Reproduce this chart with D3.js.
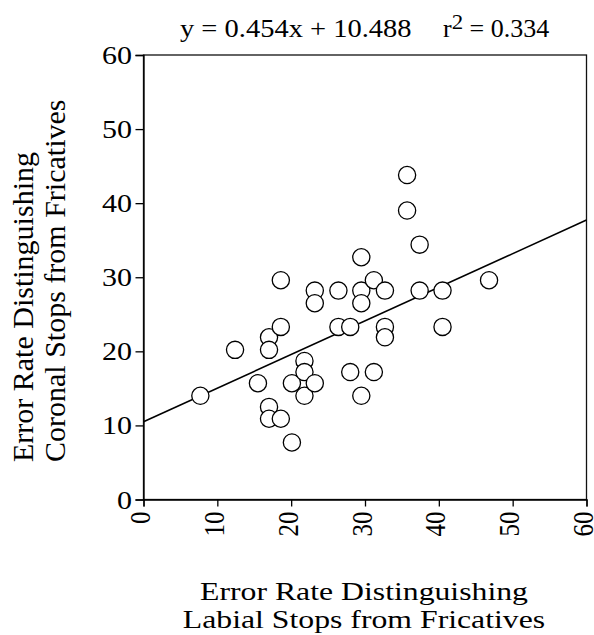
<!DOCTYPE html>
<html>
<head>
<meta charset="utf-8">
<script src="https://cdn.jsdelivr.net/npm/d3@7"></script>
<style>
  body { margin: 0; background: #fff; }
  text { font-family: "Liberation Serif", "Times New Roman", serif; fill: #000; }
</style>
</head>
<body>
<div id="chart"></div>
<script>
// values
const labialErr = [7.7, 12.4, 15.5, 17.0, 17.0, 17.0, 17.0, 18.6, 18.6, 18.6, 20.1, 20.1, 21.8, 21.8, 21.8,
    23.2, 23.2, 23.2, 26.4, 26.4, 28.0, 28.0, 29.5, 29.5, 29.5, 29.5, 31.2, 31.2, 32.7, 32.7, 32.7,
    35.7, 35.7, 37.4, 37.4, 40.5, 40.5, 46.8];
const coronalErr = [14.0, 20.2, 15.7, 21.9, 20.2, 12.5, 10.9, 10.9, 23.3, 29.6, 7.7, 15.7, 18.7, 17.2, 14.0,
    15.7, 28.2, 26.5, 28.2, 23.3, 23.3, 17.2, 32.7, 28.2, 26.5, 14.0, 29.6, 17.2, 28.2, 23.3, 21.9,
    43.8, 39.0, 34.4, 28.2, 28.2, 23.3, 29.6];
const slope = 0.454, intercept = 10.488, rSquared = 0.334;
const tickValues = [0, 10, 20, 30, 40, 50, 60];
const xLabelLines = ["Error Rate Distinguishing", "Labial Stops from Fricatives"];
const yLabelLines = ["Error Rate Distinguishing", "Coronal Stops from Fricatives"];

const width = 594, height = 635;
const margin = { top: 55, right: 7.5, bottom: 135.5, left: 143.5 };
const plotW = width - margin.left - margin.right;
const plotH = height - margin.top - margin.bottom;
const fs = 25;

const svg = d3.select("#chart").append("svg")
    .attr("width", width)
    .attr("height", height);

const g = svg.append("g")
    .attr("transform", `translate(${margin.left},${margin.top})`);

const x = d3.scaleLinear().domain([0, 60]).range([0, plotW]);
const y = d3.scaleLinear().domain([0, 60]).range([plotH, 0]);

// frame
g.append("rect")
    .attr("width", plotW)
    .attr("height", plotH)
    .attr("fill", "none")
    .attr("stroke", "#111")
    .attr("stroke-width", 1.3);

// y axis
const yAxis = g.append("g")
    .call(d3.axisLeft(y).tickValues(tickValues).tickSize(8).tickFormat(""));
yAxis.select(".domain").attr("stroke-width", 1.3);
yAxis.selectAll(".tick line").attr("stroke-width", 1.3);

g.selectAll(".ytick-label")
    .data(tickValues)
    .enter()
    .append("text")
    .attr("class", "ytick-label")
    .attr("text-anchor", "end")
    .attr("font-size", fs)
    .attr("transform", d => `translate(${-11.5},${y(d) + 9}) scale(1.2,1)`)
    .text(d => d);

// x axis
const xAxis = g.append("g")
    .attr("transform", `translate(0,${plotH})`)
    .call(d3.axisBottom(x).tickValues(tickValues).tickSize(7).tickFormat(""));
xAxis.select(".domain").attr("stroke-width", 1.3);
xAxis.selectAll(".tick line").attr("stroke-width", 1.3);

g.selectAll(".xtick-label")
    .data(tickValues)
    .enter()
    .append("text")
    .attr("class", "xtick-label")
    .attr("text-anchor", "end")
    .attr("font-size", fs)
    .attr("transform", d => `translate(${x(d) + 6.5},${plotH + 12}) scale(1.2,1) rotate(-90)`)
    .text(d => d);

// regression line
g.append("line")
    .attr("x1", x(0))
    .attr("y1", y(intercept))
    .attr("x2", x(60))
    .attr("y2", y(intercept + slope * 60))
    .attr("stroke", "#000")
    .attr("stroke-width", 1.6);

// points
const pts = labialErr.map((v, i) => ({ lx: v, cy: coronalErr[i] }));
g.selectAll(".pt")
    .data(pts)
    .enter()
    .append("circle")
    .attr("class", "pt")
    .attr("cx", d => x(d.lx))
    .attr("cy", d => y(d.cy))
    .attr("r", 8.6)
    .attr("fill", "#fff")
    .attr("stroke", "#000")
    .attr("stroke-width", 1.3);

// title with the fit
svg.append("text")
    .attr("font-size", fs)
    .attr("transform", `translate(180,37) scale(1.14,1)`)
    .text(`y = ${slope.toFixed(3)}x + ${intercept.toFixed(3)}`);

const rText = svg.append("text")
    .attr("font-size", fs)
    .attr("transform", `translate(443,37) scale(1.04,1)`);
rText.append("tspan").text("r");
rText.append("tspan").attr("dy", -8).attr("font-size", 22).text("2");
rText.append("tspan").attr("dy", 8).text(` = ${rSquared.toFixed(3)}`);

// x axis title
svg.selectAll(".xlab")
    .data(xLabelLines)
    .enter()
    .append("text")
    .attr("class", "xlab")
    .attr("text-anchor", "middle")
    .attr("font-size", fs)
    .attr("transform", (d, i) => `translate(${margin.left + plotW / 2 - 1},${600 + i * 28}) scale(1.27,1)`)
    .text(d => d);

// y axis title
svg.selectAll(".ylab")
    .data(yLabelLines)
    .enter()
    .append("text")
    .attr("class", "ylab")
    .attr("text-anchor", "start")
    .attr("font-size", 30)
    .attr("transform", (d, i) => `translate(${33 + i * 32},462) rotate(-90)`)
    .text(d => d);
</script>
</body>
</html>
